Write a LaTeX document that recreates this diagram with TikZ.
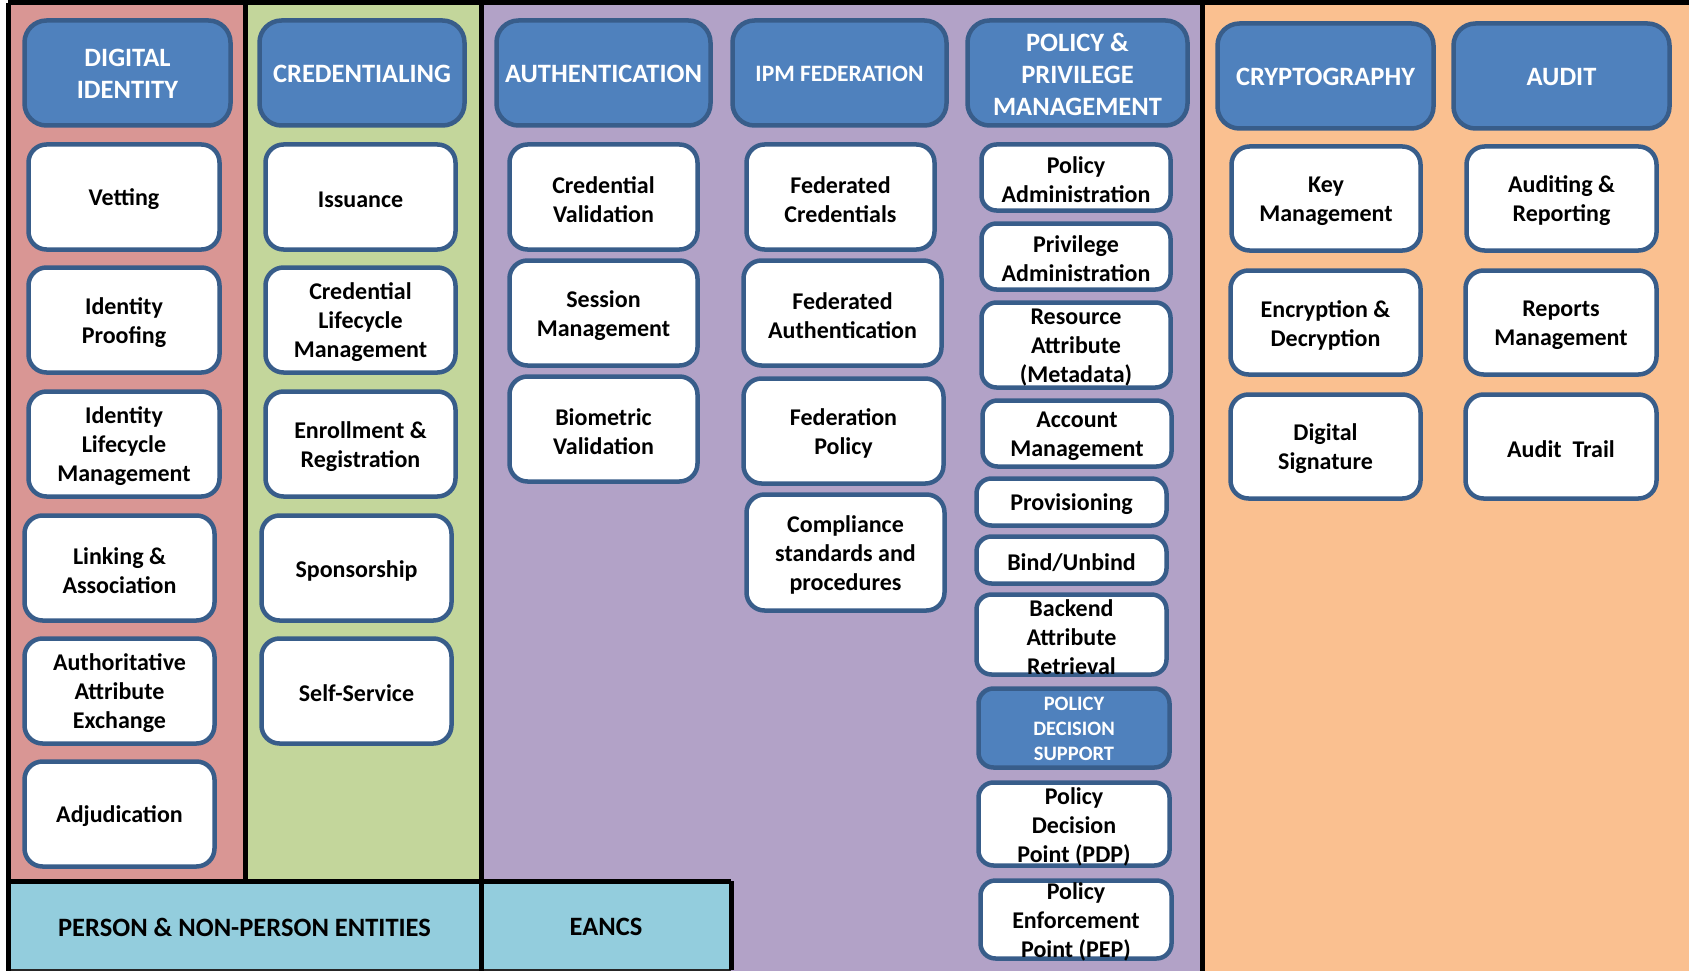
\documentclass[tikz,border=0pt]{standalone}
\usepackage{fontspec}
\setmainfont{Carlito}
\definecolor{redcol}{HTML}{D99694}
\definecolor{greencol}{HTML}{C3D69B}
\definecolor{purplecol}{HTML}{B2A2C7}
\definecolor{orangecol}{HTML}{FAC090}
\definecolor{bluecol}{HTML}{93CDDD}
\definecolor{hfill}{HTML}{4F81BD}
\definecolor{bord}{HTML}{385D8A}
\tikzset{
  wbox/.style={draw=bord, line width=4.5pt, fill=white, rounded corners=18pt,
    inner sep=0pt},
  wtext/.style={align=center, inner sep=0pt, text=black, yshift=-2.5pt,
    font=\bfseries\fontsize{24}{29}\selectfont},
  hbox/.style={wbox, fill=hfill, rounded corners=22pt},
  htext/.style={wtext, text=white, yshift=1.5pt,
    font=\bfseries\fontsize{26.5}{32}\selectfont},
  sbox/.style={wbox, rounded corners=15pt},
  bband/.style={fill=bluecol, inner sep=0pt},
  btext/.style={wtext, yshift=1.5pt, font=\bfseries\fontsize{26.5}{31}\selectfont},
  sepline/.style={draw=black, line width=5pt},
  thinline/.style={draw=black!85, line width=2pt}
}
% box style, text style, name, x1, y1, x2, y2, text
\newcommand\bx[8]{%
  \node[#1, minimum width={#6-#4-5}, minimum height={#7-#5-5}] (#3)
    at ({(#4+#6)/2},{(#5+#7)/2}) {};
  \node[#2] (#3-t) at (#3.center) {#8};}
\begin{document}
\begin{tikzpicture}[x=1pt,y=-1pt]
\useasboundingbox (0,0) rectangle (1689,971);
% column backgrounds
\fill[redcol] (8,3) rectangle (245,881);
\fill[greencol] (245,3) rectangle (481,881);
\fill[purplecol] (481,3) rectangle (1202,971);
\fill[orangecol] (1202,3) rectangle (1689,971);
% bottom band
\node[bband, minimum width=473, minimum height=90] (pnpe) at (244.5,926) {};
\node[btext] (pnpe-t) at (pnpe.center) {PERSON \& NON-PERSON ENTITIES};
\node[bband, minimum width=250, minimum height=90] (eancs) at (606,926) {};
\node[btext] (eancs-t) at (eancs.center) {EANCS};
% frame and dividers
\coordinate (tl) at (8,3);
\coordinate (tr) at (1689,3);
\coordinate (bl) at (8,971);
\coordinate (d1t) at (245,3);
\coordinate (d1b) at (245,881);
\coordinate (d2t) at (481,3);
\coordinate (d2b) at (481,971);
\coordinate (d3t) at (1202,3);
\coordinate (d3b) at (1202,971);
\coordinate (bt1) at (8,881);
\coordinate (bt2) at (731,881);
\coordinate (bb1) at (8,970);
\coordinate (bb2) at (731,970);
\draw[thinline] (bb1) -- (bb2);
\draw[sepline] (tl) -- (tr);
\draw[sepline] (tl) -- (bl);
\draw[sepline] (d1t) -- (d1b);
\draw[sepline] (d2t) -- (d2b);
\draw[sepline] (d3t) -- (d3b);
\draw[sepline] (bt1) -- (bt2);
\draw[sepline] (bt2) -- (bb2);
% headers
\bx{hbox}{htext}{hDI}{22}{18}{233}{128}{DIGITAL\\IDENTITY}
\bx{hbox}{htext}{hCR}{257}{18}{467}{128}{CREDENTIALING}
\bx{hbox}{htext}{hAU}{494}{18}{713}{128}{AUTHENTICATION}
\bx{hbox}{htext, font=\bfseries\fontsize{23.5}{29}\selectfont}{hIPM}{730}{18}{949}{128}{IPM FEDERATION}
\bx{hbox}{htext}{hPP}{965}{18}{1190}{128}{POLICY \&\\PRIVILEGE\\MANAGEMENT}
\bx{hbox}{htext}{hCY}{1215}{21}{1436}{131}{CRYPTOGRAPHY}
\bx{hbox}{htext}{hAD}{1451}{21}{1672}{131}{AUDIT}
% digital identity
\bx{wbox}{wtext}{vet}{26}{142}{222}{252}{Vetting}
\bx{wbox}{wtext}{idp}{26}{265}{222}{375}{Identity\\Proofing}
\bx{wbox}{wtext}{ilm}{26}{389}{222}{499}{Identity\\Lifecycle\\Management}
\bx{wbox}{wtext}{lnk}{22}{513}{217}{623}{Linking \&\\Association}
\bx{wbox}{wtext}{aae}{22}{636}{217}{746}{Authoritative\\Attribute\\Exchange}
\bx{wbox}{wtext}{adj}{22}{759}{217}{869}{Adjudication}
% credentialing
\bx{wbox}{wtext}{iss}{263}{142}{458}{252}{Issuance}
\bx{wbox}{wtext}{clm}{263}{265}{458}{375}{Credential\\Lifecycle\\Management}
\bx{wbox}{wtext}{enr}{263}{389}{458}{499}{Enrollment \&\\Registration}
\bx{wbox}{wtext}{spo}{259}{513}{454}{623}{Sponsorship}
\bx{wbox}{wtext}{sse}{259}{636}{454}{746}{Self-Service}
% authentication
\bx{wbox}{wtext}{cva}{507}{142}{700}{252}{Credential\\Validation}
\bx{wbox}{wtext}{sma}{507}{258}{700}{368}{Session\\Management}
\bx{wbox}{wtext}{bva}{507}{374}{700}{484}{Biometric\\Validation}
% IPM federation
\bx{wbox}{wtext}{fcr}{744}{142}{937}{252}{Federated\\Credentials}
\bx{wbox}{wtext}{fau}{741}{258}{944}{368}{Federated\\Authentication}
\bx{wbox}{wtext}{fpo}{741}{376}{946}{486}{Federation\\Policy}
\bx{wbox}{wtext}{csp}{744}{492}{947}{613}{Compliance\\standards and\\procedures}
% policy & privilege management
\bx{sbox}{wtext}{pad}{979}{142}{1173}{213}{Policy\\Administration}
\bx{sbox}{wtext}{prv}{979}{221}{1173}{292}{Privilege\\Administration}
\bx{sbox}{wtext}{rat}{979}{300}{1173}{390}{Resource\\Attribute\\(Metadata)}
\bx{sbox}{wtext}{acm}{980}{398}{1174}{469}{Account\\Management}
\bx{sbox}{wtext}{prov}{974}{476}{1169}{528}{Provisioning}
\bx{sbox}{wtext}{bind}{974}{534}{1169}{586}{Bind/Unbind}
\bx{sbox}{wtext}{bar}{974}{592}{1169}{677}{Backend\\Attribute\\Retrieval}
\bx{hbox, rounded corners=15pt}{htext, font=\bfseries\fontsize{20.5}{25}\selectfont}{pds}{976}{686}{1172}{770}{POLICY\\DECISION\\SUPPORT}
\bx{sbox}{wtext}{pdp}{976}{780}{1172}{868}{Policy\\Decision\\Point (PDP)}
\bx{sbox}{wtext}{pep}{978}{878}{1174}{961}{Policy\\Enforcement\\Point (PEP)}
% cryptography
\bx{wbox}{wtext}{kma}{1229}{144}{1423}{253}{Key\\Management}
\bx{wbox}{wtext}{enc}{1228}{268}{1423}{377}{Encryption \&\\Decryption}
\bx{wbox}{wtext}{dsi}{1228}{392}{1423}{501}{Digital\\Signature}
% audit
\bx{wbox}{wtext}{aur}{1464}{144}{1659}{253}{Auditing \&\\Reporting}
\bx{wbox}{wtext}{rma}{1463}{268}{1659}{377}{Reports\\Management}
\bx{wbox}{wtext}{atr}{1463}{392}{1659}{501}{Audit\ \ Trail}
\end{tikzpicture}
\end{document}
